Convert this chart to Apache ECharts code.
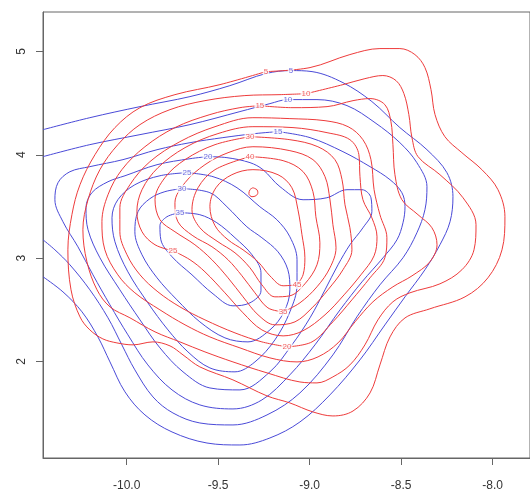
<!DOCTYPE html>
<html>
<head>
<meta charset="utf-8">
<script src="https://cdn.jsdelivr.net/npm/echarts@6/dist/echarts.min.js"></script>
<style>
  html, body { margin: 0; padding: 0; background: #ffffff; }
  #chart { width: 530px; height: 497px; }
</style>
</head>
<body>
<div id="chart"></div>
<script>
// Axis ticks
const xTicks = [-10.0, -9.5, -9.0, -8.5, -8.0];
const yTicks = [2, 3, 4, 5];
const xRange = [-10.457, -7.796];
const yRange = [1.065, 5.382];

// Red density contours (levels 5 .. 45, plus the tiny 50 loop), [x, y] points
const red05 = [[-9.239,4.805],[-8.998,4.844],[-8.780,4.970],[-8.616,5.028],[-8.507,5.028],[-8.425,4.970],[-8.370,4.844],[-8.337,4.631],[-8.315,4.389],[-8.261,4.175],[-8.168,4.020],[-8.059,3.856],[-7.971,3.662],[-7.933,3.400],[-7.949,3.080],[-8.026,2.809],[-8.151,2.625],[-8.343,2.509],[-8.479,2.421],[-8.561,2.237],[-8.616,1.966],[-8.670,1.695],[-8.763,1.520],[-8.873,1.472],[-8.982,1.511],[-9.108,1.598],[-9.233,1.666],[-9.419,1.821],[-9.600,1.947],[-9.692,2.063],[-9.763,2.150],[-9.856,2.189],[-9.965,2.160],[-10.053,2.179],[-10.130,2.218],[-10.201,2.305],[-10.255,2.431],[-10.304,2.693],[-10.321,3.080],[-10.299,3.420],[-10.255,3.710],[-10.173,4.001],[-10.064,4.263],[-9.927,4.456],[-9.736,4.582],[-9.490,4.679],[-9.239,4.805]];
const red10 = [[-9.020,4.591],[-8.818,4.679],[-8.698,4.737],[-8.600,4.767],[-8.528,4.718],[-8.485,4.592],[-8.458,4.389],[-8.441,4.166],[-8.408,3.982],[-8.288,3.807],[-8.162,3.584],[-8.091,3.323],[-8.102,3.080],[-8.168,2.887],[-8.288,2.751],[-8.452,2.664],[-8.545,2.577],[-8.627,2.402],[-8.698,2.160],[-8.780,1.966],[-8.873,1.850],[-8.960,1.792],[-9.053,1.801],[-9.233,1.889],[-9.419,1.995],[-9.572,2.092],[-9.709,2.189],[-9.845,2.286],[-9.982,2.422],[-10.091,2.528],[-10.162,2.693],[-10.217,2.964],[-10.239,3.274],[-10.211,3.565],[-10.146,3.856],[-10.048,4.098],[-9.927,4.292],[-9.763,4.437],[-9.572,4.524],[-9.354,4.573],[-9.162,4.582],[-9.020,4.591]];
const red15 = [[-9.272,4.475],[-9.091,4.456],[-8.905,4.466],[-8.763,4.524],[-8.670,4.544],[-8.589,4.485],[-8.556,4.321],[-8.545,4.098],[-8.534,3.807],[-8.496,3.565],[-8.408,3.420],[-8.332,3.294],[-8.304,3.129],[-8.343,2.964],[-8.441,2.828],[-8.545,2.722],[-8.654,2.577],[-8.752,2.383],[-8.845,2.179],[-8.954,2.044],[-9.069,1.995],[-9.217,2.034],[-9.381,2.131],[-9.545,2.237],[-9.681,2.354],[-9.818,2.499],[-9.955,2.664],[-10.048,2.838],[-10.119,3.080],[-10.135,3.352],[-10.102,3.613],[-10.026,3.856],[-9.900,4.078],[-9.736,4.263],[-9.545,4.389],[-9.381,4.456],[-9.272,4.475]];
const red20 = [[-9.124,2.141],[-9.261,2.189],[-9.408,2.276],[-9.572,2.402],[-9.709,2.528],[-9.829,2.673],[-9.927,2.838],[-9.998,3.032],[-10.037,3.255],[-10.037,3.487],[-9.982,3.710],[-9.873,3.933],[-9.709,4.127],[-9.517,4.272],[-9.310,4.359],[-9.108,4.350],[-8.916,4.330],[-8.790,4.272],[-8.709,4.146],[-8.665,3.953],[-8.648,3.662],[-8.616,3.420],[-8.578,3.197],[-8.589,3.003],[-8.670,2.809],[-8.769,2.596],[-8.873,2.383],[-8.987,2.189],[-9.124,2.141]];
const red25 = [[-9.747,3.071],[-9.845,3.129],[-9.916,3.255],[-9.944,3.449],[-9.916,3.662],[-9.829,3.875],[-9.681,4.069],[-9.501,4.205],[-9.310,4.272],[-9.091,4.263],[-8.905,4.214],[-8.780,4.146],[-8.731,4.001],[-8.725,3.788],[-8.709,3.565],[-8.660,3.390],[-8.632,3.206],[-8.648,3.022],[-8.720,2.838],[-8.812,2.644],[-8.916,2.451],[-9.037,2.296],[-9.145,2.247],[-9.261,2.305],[-9.364,2.470],[-9.463,2.664],[-9.572,2.867],[-9.654,2.984],[-9.747,3.071]];
const red30 = [[-9.326,4.175],[-9.108,4.146],[-8.955,4.078],[-8.862,3.953],[-8.823,3.759],[-8.807,3.516],[-8.780,3.294],[-8.769,3.080],[-8.818,2.887],[-8.900,2.693],[-8.987,2.518],[-9.080,2.383],[-9.190,2.354],[-9.282,2.451],[-9.364,2.625],[-9.446,2.809],[-9.534,2.984],[-9.627,3.129],[-9.736,3.255],[-9.818,3.371],[-9.845,3.565],[-9.791,3.778],[-9.681,3.953],[-9.517,4.098],[-9.326,4.175]];
const red35 = [[-9.145,2.480],[-9.228,2.518],[-9.299,2.664],[-9.370,2.829],[-9.446,2.984],[-9.534,3.110],[-9.638,3.216],[-9.720,3.352],[-9.736,3.536],[-9.681,3.730],[-9.572,3.904],[-9.446,4.020],[-9.310,4.078],[-9.108,4.040],[-8.982,3.953],[-8.916,3.788],[-8.889,3.565],[-8.873,3.323],[-8.856,3.100],[-8.889,2.906],[-8.960,2.722],[-9.053,2.567],[-9.145,2.480]];
const red40 = [[-9.326,3.982],[-9.145,3.943],[-9.036,3.837],[-8.982,3.643],[-8.966,3.400],[-8.944,3.148],[-8.960,2.935],[-9.026,2.751],[-9.108,2.635],[-9.190,2.625],[-9.261,2.741],[-9.326,2.906],[-9.408,3.051],[-9.501,3.158],[-9.600,3.294],[-9.643,3.468],[-9.610,3.681],[-9.517,3.856],[-9.326,3.982]];
const red45 = [[-9.069,2.741],[-9.145,2.732],[-9.217,2.828],[-9.282,2.964],[-9.364,3.080],[-9.446,3.177],[-9.517,3.313],[-9.545,3.497],[-9.512,3.681],[-9.425,3.807],[-9.310,3.856],[-9.173,3.807],[-9.097,3.681],[-9.064,3.468],[-9.042,3.226],[-9.026,3.003],[-9.036,2.838],[-9.069,2.741]];
const red50 = [[-9.310,3.681],[-9.288,3.662],[-9.283,3.633],[-9.293,3.604],[-9.315,3.594],[-9.332,3.623],[-9.326,3.662],[-9.310,3.681]];

// Blue density contours (levels 5 .. 35); the two outer ones run off the left edge
const blue05 = [[-10.457,4.243],[-10.201,4.359],[-9.927,4.466],[-9.654,4.563],[-9.436,4.669],[-9.239,4.786],[-9.102,4.815],[-8.987,4.805],[-8.818,4.698],[-8.660,4.515],[-8.507,4.263],[-8.359,4.049],[-8.250,3.827],[-8.217,3.594],[-8.233,3.352],[-8.288,3.129],[-8.370,2.887],[-8.479,2.625],[-8.589,2.353],[-8.725,2.015],[-8.889,1.676],[-9.053,1.414],[-9.217,1.259],[-9.381,1.191],[-9.561,1.210],[-9.752,1.317],[-9.900,1.482],[-10.009,1.705],[-10.091,1.995],[-10.157,2.237],[-10.244,2.480],[-10.348,2.673],[-10.457,2.819]];
const blue10 = [[-10.457,3.982],[-10.201,4.098],[-9.927,4.195],[-9.654,4.292],[-9.381,4.418],[-9.217,4.495],[-9.119,4.534],[-8.960,4.534],[-8.796,4.476],[-8.643,4.311],[-8.507,4.117],[-8.414,3.923],[-8.359,3.691],[-8.370,3.468],[-8.414,3.245],[-8.490,3.003],[-8.616,2.741],[-8.742,2.431],[-8.873,2.063],[-9.053,1.695],[-9.233,1.482],[-9.419,1.385],[-9.600,1.404],[-9.747,1.501],[-9.856,1.656],[-9.955,1.918],[-10.026,2.160],[-10.102,2.422],[-10.201,2.693],[-10.310,2.935],[-10.392,3.080],[-10.457,3.177]];
const blue15 = [[-9.173,4.224],[-8.998,4.166],[-8.818,4.030],[-8.670,3.885],[-8.561,3.759],[-8.496,3.633],[-8.479,3.497],[-8.490,3.342],[-8.523,3.177],[-8.599,3.003],[-8.714,2.770],[-8.834,2.499],[-8.971,2.160],[-9.108,1.870],[-9.261,1.627],[-9.419,1.540],[-9.600,1.579],[-9.752,1.724],[-9.884,1.966],[-9.993,2.257],[-10.091,2.547],[-10.184,2.838],[-10.266,3.109],[-10.348,3.352],[-10.392,3.565],[-10.375,3.730],[-10.310,3.836],[-10.201,3.885],[-10.020,3.953],[-9.834,4.049],[-9.654,4.117],[-9.474,4.166],[-9.299,4.205],[-9.173,4.224]];
const blue20 = [[-9.556,3.982],[-9.452,3.972],[-9.326,3.924],[-9.255,3.856],[-9.162,3.691],[-9.036,3.565],[-8.906,3.584],[-8.796,3.662],[-8.714,3.662],[-8.665,3.584],[-8.660,3.449],[-8.709,3.293],[-8.780,3.129],[-8.845,2.935],[-8.916,2.693],[-8.998,2.422],[-9.097,2.160],[-9.217,1.899],[-9.381,1.724],[-9.545,1.743],[-9.692,1.899],[-9.818,2.131],[-9.927,2.402],[-10.037,2.693],[-10.146,3.003],[-10.211,3.274],[-10.222,3.487],[-10.190,3.633],[-10.102,3.739],[-10.009,3.797],[-9.834,3.904],[-9.654,3.962],[-9.556,3.982]];
const blue25 = [[-9.670,3.827],[-9.528,3.788],[-9.397,3.681],[-9.272,3.497],[-9.179,3.371],[-9.108,3.206],[-9.069,2.984],[-9.069,2.741],[-9.108,2.480],[-9.190,2.208],[-9.299,1.995],[-9.408,1.899],[-9.545,1.937],[-9.665,2.092],[-9.774,2.305],[-9.884,2.567],[-9.993,2.867],[-10.064,3.158],[-10.080,3.390],[-10.048,3.565],[-9.955,3.710],[-9.818,3.797],[-9.670,3.827]];
const blue30 = [[-9.698,3.672],[-9.545,3.633],[-9.452,3.497],[-9.343,3.303],[-9.261,3.197],[-9.173,3.061],[-9.119,2.887],[-9.108,2.693],[-9.140,2.480],[-9.217,2.305],[-9.337,2.189],[-9.463,2.228],[-9.600,2.383],[-9.725,2.596],[-9.834,2.809],[-9.916,3.032],[-9.955,3.255],[-9.938,3.449],[-9.873,3.575],[-9.791,3.643],[-9.698,3.672]];
const blue35 = [[-9.709,3.439],[-9.600,3.420],[-9.507,3.342],[-9.408,3.197],[-9.315,3.032],[-9.266,2.858],[-9.266,2.683],[-9.326,2.567],[-9.419,2.538],[-9.528,2.654],[-9.643,2.838],[-9.752,3.013],[-9.813,3.177],[-9.818,3.313],[-9.780,3.400],[-9.709,3.439]];

// Contour level labels: [x, y, text]
const redLabels = [[-9.239,4.805,'5'],[-9.020,4.591,'10'],[-9.272,4.475,'15'],[-9.326,4.175,'30'],[-9.326,3.982,'40'],[-9.747,3.071,'25'],[-9.069,2.741,'45'],[-9.145,2.480,'35'],[-9.124,2.141,'20']];
const blueLabels = [[-9.102,4.815,'5'],[-9.119,4.534,'10'],[-9.173,4.224,'15'],[-9.556,3.982,'20'],[-9.670,3.827,'25'],[-9.698,3.672,'30'],[-9.709,3.439,'35']];

const RED = '#ee3b3b';
const BLUE = '#4a4ad8';

const redSet = [red05, red10, red15, red20, red25, red30, red35, red40, red45, red50];
const blueSet = [blue05, blue10, blue15, blue20, blue25, blue30, blue35];

function contourSeries(points, color) {
  return {
    type: 'line',
    data: points,
    smooth: 0.35,
    showSymbol: false,
    symbol: 'none',
    lineStyle: { color: color, width: 1 },
    silent: true,
    z: 2
  };
}

function labelSeries(items, color) {
  return {
    type: 'scatter',
    symbolSize: 0,
    z: 5,
    silent: true,
    data: items.map(d => ({ value: [d[0], d[1]], name: d[2] })),
    label: {
      show: true,
      position: 'inside',
      formatter: '{b}',
      color: color,
      fontSize: 8,
      fontFamily: 'Liberation Sans, Arial, sans-serif',
      backgroundColor: '#ffffff',
      padding: [0, 1]
    }
  };
}

const series = []
  .concat(blueSet.map(p => contourSeries(p, BLUE)))
  .concat(redSet.map(p => contourSeries(p, RED)))
  .concat([labelSeries(redLabels, RED), labelSeries(blueLabels, BLUE)]);

const axisText = { color: '#333', fontSize: 12, fontFamily: 'Liberation Sans, Arial, sans-serif' };

const chart = echarts.init(document.getElementById('chart'), null, { renderer: 'canvas' });
chart.setOption({
  animation: false,
  backgroundColor: '#ffffff',
  grid: { left: 43, top: 12, right: 0, bottom: 39, show: true, borderColor: '#666', borderWidth: 1, backgroundColor: 'transparent' },
  xAxis: {
    type: 'value', min: xRange[0], max: xRange[1],
    splitLine: { show: false },
    axisLine: { show: true, lineStyle: { color: '#666' } },
    axisTick: { show: true, inside: false, length: 7, customValues: xTicks, lineStyle: { color: '#666' } },
    axisLabel: Object.assign({ margin: 22, customValues: xTicks, formatter: v => v.toFixed(1) }, axisText)
  },
  yAxis: {
    type: 'value', min: yRange[0], max: yRange[1],
    splitLine: { show: false },
    axisLine: { show: true, lineStyle: { color: '#666' } },
    axisTick: { show: true, inside: false, length: 7, customValues: yTicks, lineStyle: { color: '#666' } },
    axisLabel: Object.assign({ margin: 15, rotate: 90, customValues: yTicks, formatter: v => String(v) }, axisText)
  },
  series: series
});
</script>
</body>
</html>
